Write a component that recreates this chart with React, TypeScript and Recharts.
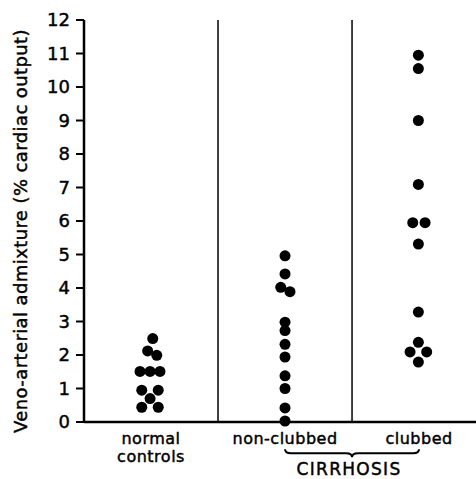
import React from 'react';
import { ScatterChart, Scatter, XAxis, YAxis, ReferenceLine } from 'recharts';

// Group centres on the x scale: 0.5, 1.5, 2.5 (dividers at 1 and 2)
const groupNames = ['normal controls', 'non-clubbed', 'clubbed'];
const groupCentres = [0.5, 1.5, 2.5];
const yTicks = [0, 1, 2, 3, 4, 5, 6, 7, 8, 9, 10, 11, 12];

// Veno-arterial admixture (% cardiac output); x = horizontal placement within group
const normalX = [0.513, 0.475, 0.543, 0.418, 0.493, 0.567, 0.431, 0.554, 0.493, 0.431, 0.554];
const normalY = [2.49, 2.12, 1.99, 1.51, 1.51, 1.51, 0.95, 0.95, 0.7, 0.44, 0.44];

const nonClubbedX = [1.5, 1.5, 1.468, 1.537, 1.5, 1.5, 1.5, 1.5, 1.5, 1.5, 1.5, 1.5];
const nonClubbedY = [4.96, 4.42, 4.02, 3.89, 2.98, 2.73, 2.32, 1.94, 1.38, 1.0, 0.42, 0.03];

const clubbedX = [2.495, 2.495, 2.495, 2.495, 2.453, 2.545, 2.495, 2.495, 2.495, 2.433, 2.557, 2.495];
const clubbedY = [10.95, 10.55, 9.0, 7.09, 5.95, 5.95, 5.31, 3.28, 2.38, 2.09, 2.09, 1.79];

const toPoints = (xs: number[], ys: number[]) => ys.map((y, i) => ({ x: xs[i], y }));

const FONT = '"DejaVu Sans", sans-serif';
const HEAVY = { stroke: '#000', strokeWidth: 0.45 };

const Dot = (p: any) => <circle cx={p.cx} cy={p.cy} r={5.5} fill="#000" />;

const XTick = (p: any) => {
  const { x, y, payload } = p;
  const idx = groupCentres.indexOf(payload.value);
  const name = groupNames[idx] || '';
  const lines = idx === 0 ? ['normal', 'controls'] : [name];
  return (
    <g>
      {lines.map((l, i) => (
        <text
          key={i}
          x={x}
          y={y + 22 + i * 18}
          textAnchor="middle"
          fontFamily={FONT}
          fontSize={16}
          letterSpacing={0.5}
          fill="#000"
          {...HEAVY}
        >
          {l}
        </text>
      ))}
    </g>
  );
};

const Brace = (p: any) => {
  const { x1, y1, x2 } = p;
  const mid = (x1 + x2) / 2;
  const d = `M ${x1} ${y1 - 4} Q ${x1} ${y1} ${x1 + 6} ${y1} L ${mid - 6} ${y1} Q ${mid} ${y1} ${mid} ${y1 + 4} Q ${mid} ${y1} ${mid + 6} ${y1} L ${x2 - 6} ${y1} Q ${x2} ${y1} ${x2} ${y1 - 4}`;
  return (
    <g>
      <path d={d} stroke="#000" strokeWidth={2} fill="none" />
      <text
        x={mid - 3}
        y={y1 + 22}
        textAnchor="middle"
        fontFamily={FONT}
        fontSize={17}
        letterSpacing={1.3}
        fill="#000"
        {...HEAVY}
      >
        CIRRHOSIS
      </text>
    </g>
  );
};

const YLabel = (p: any) => {
  const vb = p.viewBox || { x: 0, y: 20, width: 84, height: 402 };
  const cx = 20;
  const cy = vb.y + vb.height / 2 + 10;
  return (
    <text
      x={cx}
      y={cy}
      transform={`rotate(-90, ${cx}, ${cy})`}
      textAnchor="middle"
      dominantBaseline="central"
      fontFamily={FONT}
      fontSize={18}
      letterSpacing={0.4}
      fill="#000"
      {...HEAVY}
    >
      Veno-arterial admixture (% cardiac output)
    </text>
  );
};

export default function App() {
  return (
    <div style={{ position: 'absolute', left: 0, top: 0, background: '#fff' }}>
      <ScatterChart width={476} height={479} margin={{ top: 20, right: 0, bottom: 0, left: 0 }}>
        <XAxis
          type="number"
          dataKey="x"
          domain={[0, 2.925]}
          ticks={groupCentres}
          allowDataOverflow
          tickLine={false}
          tickSize={0}
          tickMargin={0}
          height={57}
          axisLine={{ stroke: '#000', strokeWidth: 2.5 }}
          tick={<XTick />}
          interval={0}
        />
        <YAxis
          type="number"
          dataKey="y"
          domain={[0, 12]}
          ticks={yTicks}
          interval={0}
          width={84}
          tickSize={8}
          tickMargin={6}
          axisLine={{ stroke: '#000', strokeWidth: 2.5 }}
          tickLine={{ stroke: '#000', strokeWidth: 2 }}
          tick={{ fill: '#000', fontSize: 18, fontFamily: FONT, stroke: '#000', strokeWidth: 0.45 }}
          label={<YLabel />}
        />
        <ReferenceLine x={1} stroke="#000" strokeWidth={1.5} />
        <ReferenceLine x={2} stroke="#000" strokeWidth={1.5} />
        <ReferenceLine
          segment={[{ x: 1.5, y: -0.93 }, { x: 2.5, y: -0.93 }]}
          ifOverflow="visible"
          shape={Brace}
        />
        <Scatter data={toPoints(normalX, normalY)} shape={Dot} isAnimationActive={false} />
        <Scatter data={toPoints(nonClubbedX, nonClubbedY)} shape={Dot} isAnimationActive={false} />
        <Scatter data={toPoints(clubbedX, clubbedY)} shape={Dot} isAnimationActive={false} />
      </ScatterChart>
    </div>
  );
}
